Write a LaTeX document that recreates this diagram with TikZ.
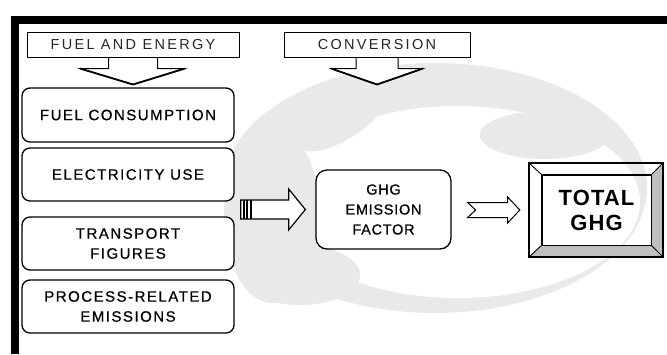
\documentclass[tikz,border=0pt]{standalone}
\usepackage{fontspec}
\setmainfont{Liberation Sans}
\newfontfamily\hdrfont{Liberation Sans}[LetterSpace=16]
\newfontfamily\boxfont{Liberation Sans}[LetterSpace=10, FakeBold=0.7]
\newfontfamily\ghgfont{Liberation Sans}[LetterSpace=5, FakeBold=0.7]
\newfontfamily\totfont{Liberation Sans}[LetterSpace=5]
\usetikzlibrary{calc}
\definecolor{globegrey}{gray}{0.915}
\definecolor{bevelgrey}{gray}{0.75}
\tikzset{
  hdrbox/.style={draw, line width=1pt, fill=white, minimum height=25pt,
    inner sep=0pt, text=black!85, font=\hdrfont\fontsize{14.5}{16}\selectfont},
  hdrarrow/.style={draw, line width=1pt, fill=white},
  headedge/.style={line width=1.8pt, line cap=round},
  srcbox/.style={draw, line width=1.3pt, rounded corners=8pt, fill=white,
    minimum width=212pt, minimum height=53pt, inner sep=0pt, align=center,
    text=black, font=\boxfont\fontsize{15}{20}\selectfont},
  factorbox/.style={draw, line width=1.3pt, rounded corners=11pt, fill=white,
    minimum width=135pt, minimum height=79pt, inner sep=0pt, align=center,
    text=black, font=\ghgfont\fontsize{14.5}{20}\selectfont},
  blockarrow/.style={draw, line width=1.2pt, fill=white, line join=miter},
  frameline/.style={draw, line width=1.6pt},
}
\begin{document}
\begin{tikzpicture}[x=1pt, y=-1pt]
\useasboundingbox (0,0) rectangle (667,354);
\fill[white] (0,0) rectangle (667,354);

% faint globe behind the flow
\fill[globegrey] (435,188) ellipse [x radius=212, y radius=125];
\fill[white] (458,202) ellipse [x radius=182, y radius=96];
\fill[globegrey] (545,135) ellipse [x radius=65, y radius=24];
\fill[globegrey] (272,215) ellipse [x radius=48, y radius=88];
\fill[globegrey] (300,275) ellipse [x radius=60, y radius=30];
\fill[globegrey, rotate around={35:(345,115)}] (345,115) ellipse [x radius=55, y radius=22];
\fill[white] (306,70) ellipse [x radius=24, y radius=13];

% frame bars
\fill[black] (11,16) rectangle (667,24);
\fill[black] (11,16) rectangle (19,354);

% header boxes with their down arrows
\node[hdrbox, minimum width=212pt] (h1) at (133,44.5) {FUEL AND ENERGY};
\node[hdrbox, minimum width=186pt] (h2) at (377,44.5) {CONVERSION};

\filldraw[hdrarrow] ($(h1.south)+(-24.5,0)$) -- ++(0,11) -- ++(-28.5,0)
  -- ($(h1.south)+(0,27)$) -- ($(h1.south)+(52,11)$) -- ($(h1.south)+(24.5,11)$)
  -- ($(h1.south)+(24.5,0)$);
\draw[headedge] ($(h1.south)+(-53,11)$) -- ($(h1.south)+(0,27)$) -- ($(h1.south)+(52,11)$);
\draw[line width=1pt] (h1.south west) -- (h1.south east);

\filldraw[hdrarrow] ($(h2.south)+(-21,0)$) -- ++(0,11) -- ++(-25,0)
  -- ($(h2.south)+(0,27)$) -- ($(h2.south)+(46,11)$) -- ($(h2.south)+(21,11)$)
  -- ($(h2.south)+(21,0)$);
\draw[headedge] ($(h2.south)+(-46,11)$) -- ($(h2.south)+(0,27)$) -- ($(h2.south)+(46,11)$);
\draw[line width=1pt] (h2.south west) -- (h2.south east);

% source boxes
\node[srcbox, minimum height=54pt] (fc) at (128,115) {FUEL CONSUMPTION};
\node[srcbox] (eu) at (128,174.5) {ELECTRICITY USE};
\node[srcbox] (tf) at (128,243.5) {TRANSPORT\\FIGURES};
\node[srcbox] (pr) at (128,306.5) {PROCESS-RELATED\\EMISSIONS};

% emission factor
\node[factorbox] (ghg) at (383.5,209.5) {GHG\\EMISSION\\FACTOR};

% total with bevelled frame
\node[minimum width=134pt, minimum height=94pt, inner sep=0pt] (frame) at (596,210) {};
\node[minimum width=109pt, minimum height=70pt, inner sep=0pt, align=center,
  text=black, font=\totfont\bfseries\fontsize{22}{25}\selectfont] (tot) at (596.5,210) {TOTAL\\GHG};
\fill[bevelgrey] (tot.north east) -- (frame.north east) -- (frame.south east)
  -- (tot.south east) -- cycle;
\fill[bevelgrey] (tot.south west) -- (tot.south east) -- (frame.south east)
  -- (frame.south west) -- cycle;
\draw[frameline] (frame.north west) rectangle (frame.south east);
\draw[line width=1.4pt] (tot.north west) rectangle (tot.south east);
\draw[line width=0.9pt] (frame.north west) -- (tot.north west)
  (frame.north east) -- (tot.north east)
  (frame.south west) -- (tot.south west)
  (frame.south east) -- (tot.south east);

% block arrow from the sources to the factor
\coordinate (bigtail) at ($(ghg.west -| eu.east)+(6,0)$);
\filldraw[blockarrow] ($(bigtail)+(0,-9.5)$) -- ($(bigtail)+(48,-9.5)$)
  -- ($(bigtail)+(48,-20.5)$) -- ($(ghg.west)+(-10,0)$)
  -- ($(bigtail)+(48,20.5)$) -- ($(bigtail)+(48,9.5)$)
  -- ($(bigtail)+(0,9.5)$) -- cycle;
\draw[line width=1.3pt] ($(bigtail)+(3.3,-9.5)$) -- ($(bigtail)+(3.3,9.5)$);
\draw[line width=2.3pt] ($(bigtail)+(6.3,-9.5)$) -- ($(bigtail)+(6.3,9.5)$);
\draw[line width=2pt] ($(bigtail)+(10,-9.5)$) -- ($(bigtail)+(10,9.5)$);

% notched arrow from the factor to the total
\coordinate (smalltail) at ($(ghg.east)+(16,0.5)$);
\filldraw[blockarrow, line width=1pt] ($(smalltail)+(0,-7.5)$) -- ($(smalltail)+(40,-7.5)$)
  -- ($(smalltail)+(40,-13)$) -- ($(frame.west)+(-9,0)$)
  -- ($(smalltail)+(40,13)$) -- ($(smalltail)+(40,7.5)$)
  -- ($(smalltail)+(0,7.5)$) -- ($(smalltail)+(8,0)$) -- cycle;
\end{tikzpicture}
\end{document}
